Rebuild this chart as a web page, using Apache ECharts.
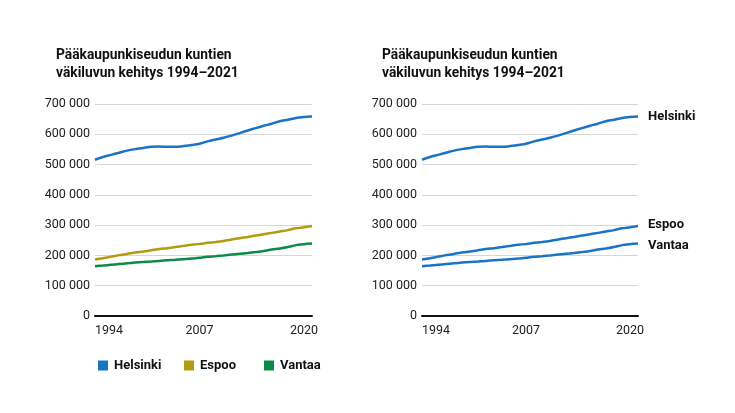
<!DOCTYPE html>
<html><head><meta charset="utf-8">
<script src="https://cdn.jsdelivr.net/npm/echarts@6/dist/echarts.min.js"></script>
<style>html,body{margin:0;padding:0;background:#fff}#c{width:735px;height:413px}</style>
</head><body><div id="c"></div>
<script>
const years = [1994,1995,1996,1997,1998,1999,2000,2001,2002,2003,2004,2005,2006,2007,2008,2009,2010,2011,2012,2013,2014,2015,2016,2017,2018,2019,2020,2021];
const helsinki = [516000,525000,532000,539000,546000,551000,555000,559000,559500,559000,559000,561000,564500,568500,576500,583000,588500,595500,604000,612500,620500,628000,635000,643000,648000,654000,657000,658500];
const espoo = [186500,191000,196000,201000,205000,209500,213000,217000,221500,224000,227500,231500,235000,238000,241500,244500,248000,252500,257000,261000,265500,270000,274500,279000,283500,289500,293000,297000];
const vantaa = [164500,166500,169000,171500,174000,176500,178500,180000,182000,184000,185500,187500,189500,192500,195500,197500,200000,203000,205500,208000,211000,214500,219500,223000,228000,234000,237000,239000];
const seriesNames = ['Helsinki','Espoo','Vantaa'];
const shownYears = ['1994','2007','2020'];
const titleText = 'Pääkaupunkiseudun kuntien\nväkiluvun kehitys 1994–2021';

const FONT = 'Roboto';
const BLUE = '#1b73c6', GOLD = '#b39b10', GREEN = '#0b8a48';
const cats = years.map(String);
const fmtY = v => String(v).replace(/\B(?=(\d{3})+(?!\d))/g, ' ');

function xAx(gi){
  return {type:'category', gridIndex:gi, data:cats, boundaryGap:false,
    axisLine:{lineStyle:{color:'#111', width:2}}, axisTick:{show:false},
    axisLabel:{interval:0, margin:8, color:'#222', fontFamily:FONT, fontSize:12.5,
      formatter:v => shownYears.includes(v) ? v : '', alignMinLabel:'left'},
    splitLine:{show:false}};
}
function yAx(gi){
  return {type:'value', gridIndex:gi, min:0, max:700000, interval:100000,
    axisLine:{show:false}, axisTick:{show:false},
    axisLabel:{margin:5, color:'#222', fontFamily:FONT, fontSize:12.5, formatter:fmtY},
    splitLine:{lineStyle:{color:'#d6d6d6', width:1}}};
}
function line(name, data, color, gi, end, off){
  const s = {name, type:'line', xAxisIndex:gi, yAxisIndex:gi, data, smooth:0.3,
    symbol:'none', lineStyle:{color, width:2.5}, itemStyle:{color}, silent:true};
  if (end) s.endLabel = {show:true, formatter:end, distance:10, offset:off || [0,0], color:'#111',
    fontFamily:FONT, fontSize:13, fontWeight:'bold'};
  return s;
}
const chart = echarts.init(document.getElementById('c'), null, {renderer:'canvas'});
const tStyle = {fontFamily:FONT, fontSize:13.8, fontWeight:'bold', color:'#111', lineHeight:18};
chart.setOption({
  animation:false,
  title:[
    {text:titleText, left:51, top:42, textStyle:tStyle},
    {text:titleText, left:377, top:42, textStyle:tStyle}
  ],
  legend:[
    {data:[seriesNames[0]], left:93, top:354},
    {data:[seriesNames[1]], left:179, top:354},
    {data:[seriesNames[2]], left:259, top:354}
  ].map(l => Object.assign(l, {icon:'rect', itemWidth:10, itemHeight:10, itemGap:0, selectedMode:false,
    textStyle:{fontFamily:FONT, fontSize:13, fontWeight:'bold', color:'#111', padding:[0,0,0,1]}})),
  grid:[
    {left:95, top:104, width:217, height:212},
    {left:422, top:104, width:216, height:212}
  ],
  xAxis:[xAx(0), xAx(1)],
  yAxis:[yAx(0), yAx(1)],
  series:[
    line(seriesNames[0], helsinki, BLUE, 0),
    line(seriesNames[1], espoo, GOLD, 0),
    line(seriesNames[2], vantaa, GREEN, 0),
    line('r-Helsinki', helsinki, BLUE, 1, seriesNames[0]),
    line('r-Espoo', espoo, BLUE, 1, seriesNames[1], [0,-1]),
    line('r-Vantaa', vantaa, BLUE, 1, seriesNames[2], [0,2])
  ]
});
</script></body></html>
